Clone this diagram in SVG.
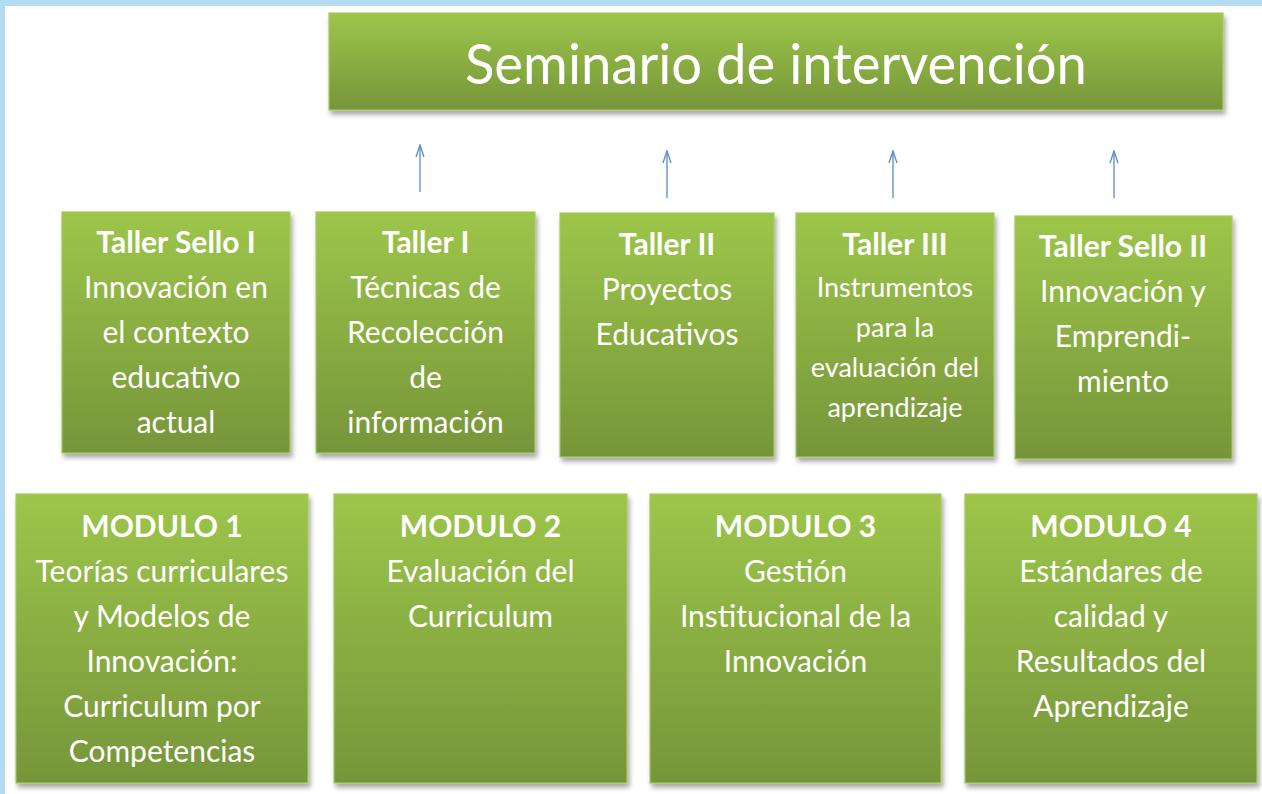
<svg xmlns="http://www.w3.org/2000/svg" width="1262" height="794" viewBox="0 0 1262 794">
<defs>
<linearGradient id="g" x1="0" y1="0" x2="0" y2="1">
<stop offset="0" stop-color="#9dc64a"/>
<stop offset="1" stop-color="#76953a"/>
</linearGradient>
<filter id="sh" x="-5%" y="-5%" width="112%" height="115%">
<feDropShadow dx="2" dy="4" stdDeviation="2.5" flood-color="#000" flood-opacity="0.35"/>
</filter>
<marker id="ah" markerWidth="14" markerHeight="10" refX="13" refY="5" orient="auto" markerUnits="userSpaceOnUse" viewBox="0 0 14 10">
<path d="M1,1 L13,5 L1,9" fill="none" stroke="#5b8bc8" stroke-width="1.3"/>
</marker>
<style>
.box{fill:url(#g);stroke:#a5c95f;stroke-width:1.2;filter:url(#sh)}
text{font-family:Lato,"Open Sans","Liberation Sans",sans-serif;fill:#fff;text-anchor:middle;font-size:30px}
.h{font-weight:bold}
.s{font-size:27px}
.t{font-size:56px}
.arr{stroke:#5b8bc8;stroke-width:1.3;fill:none}
</style>
</defs>
<rect x="0" y="0" width="1262" height="794" fill="#fff"/>
<rect x="0" y="0" width="1262" height="6" fill="#b3dcf1"/>
<rect x="0" y="0" width="5" height="794" fill="#b3dcf1"/>

<g id="connectors">
<line class="arr" x1="420" y1="192" x2="420" y2="145" marker-end="url(#ah)"/>
<line class="arr" x1="667" y1="198" x2="667" y2="151" marker-end="url(#ah)"/>
<line class="arr" x1="893" y1="198" x2="893" y2="151" marker-end="url(#ah)"/>
<line class="arr" x1="1114" y1="198" x2="1114" y2="151" marker-end="url(#ah)"/>
</g>

<g id="seminario">
<rect class="box" x="329" y="13" width="894" height="97"/>
<text class="t" x="776" y="84" textLength="622" lengthAdjust="spacingAndGlyphs">Seminario de intervención</text>
</g>

<g id="taller-sello-1">
<rect class="box" x="62" y="212" width="228" height="241"/>
<text x="176" class="h" y="253">Taller Sello I</text>
<text x="176" y="298">Innovación en</text>
<text x="176" y="343">el contexto</text>
<text x="176" y="388">educativo</text>
<text x="176" y="433">actual</text>
</g>

<g id="taller-1">
<rect class="box" x="316" y="212" width="219" height="241"/>
<text x="425.5" class="h" y="253">Taller I</text>
<text x="425.5" y="298">Técnicas de</text>
<text x="425.5" y="343">Recolección</text>
<text x="425.5" y="388">de</text>
<text x="425.5" y="433">información</text>
</g>

<g id="taller-2">
<rect class="box" x="560" y="213" width="214" height="244"/>
<text x="667" class="h" y="255">Taller II</text>
<text x="667" y="300">Proyectos</text>
<text x="667" y="345">Educativos</text>
</g>

<g id="taller-3">
<rect class="box" x="796" y="213" width="198" height="244"/>
<text x="895" class="h" y="255">Taller III</text>
<text x="895" class="s" y="297">Instrumentos</text>
<text x="895" class="s" y="337">para la</text>
<text x="895" class="s" y="377">evaluación del</text>
<text x="895" class="s" y="417">aprendizaje</text>
</g>

<g id="taller-sello-2">
<rect class="box" x="1015" y="216" width="217" height="243"/>
<text x="1123" class="h" y="257">Taller Sello II</text>
<text x="1123" y="302">Innovación y</text>
<text x="1123" y="347">Emprendi-</text>
<text x="1123" y="392">miento</text>
</g>

<g id="modulo-1">
<rect class="box" x="16" y="494" width="292" height="289"/>
<text x="162" class="h" y="537">MODULO 1</text>
<text x="162" y="582">Teorías curriculares</text>
<text x="162" y="627">y Modelos de</text>
<text x="162" y="672">Innovación:</text>
<text x="162" y="717">Curriculum por</text>
<text x="162" y="762">Competencias</text>
</g>

<g id="modulo-2">
<rect class="box" x="334" y="494" width="293" height="289"/>
<text x="480.5" class="h" y="537">MODULO 2</text>
<text x="480.5" y="582">Evaluación del</text>
<text x="480.5" y="627">Curriculum</text>
</g>

<g id="modulo-3">
<rect class="box" x="650" y="494" width="291" height="289"/>
<text x="795.5" class="h" y="537">MODULO 3</text>
<text x="795.5" y="582">Gestión</text>
<text x="795.5" y="627">Institucional de la</text>
<text x="795.5" y="672">Innovación</text>
</g>

<g id="modulo-4">
<rect class="box" x="965" y="494" width="292" height="289"/>
<text x="1111" class="h" y="537">MODULO 4</text>
<text x="1111" y="582">Estándares de</text>
<text x="1111" y="627">calidad y</text>
<text x="1111" y="672">Resultados del</text>
<text x="1111" y="717">Aprendizaje</text>
</g>
</svg>
